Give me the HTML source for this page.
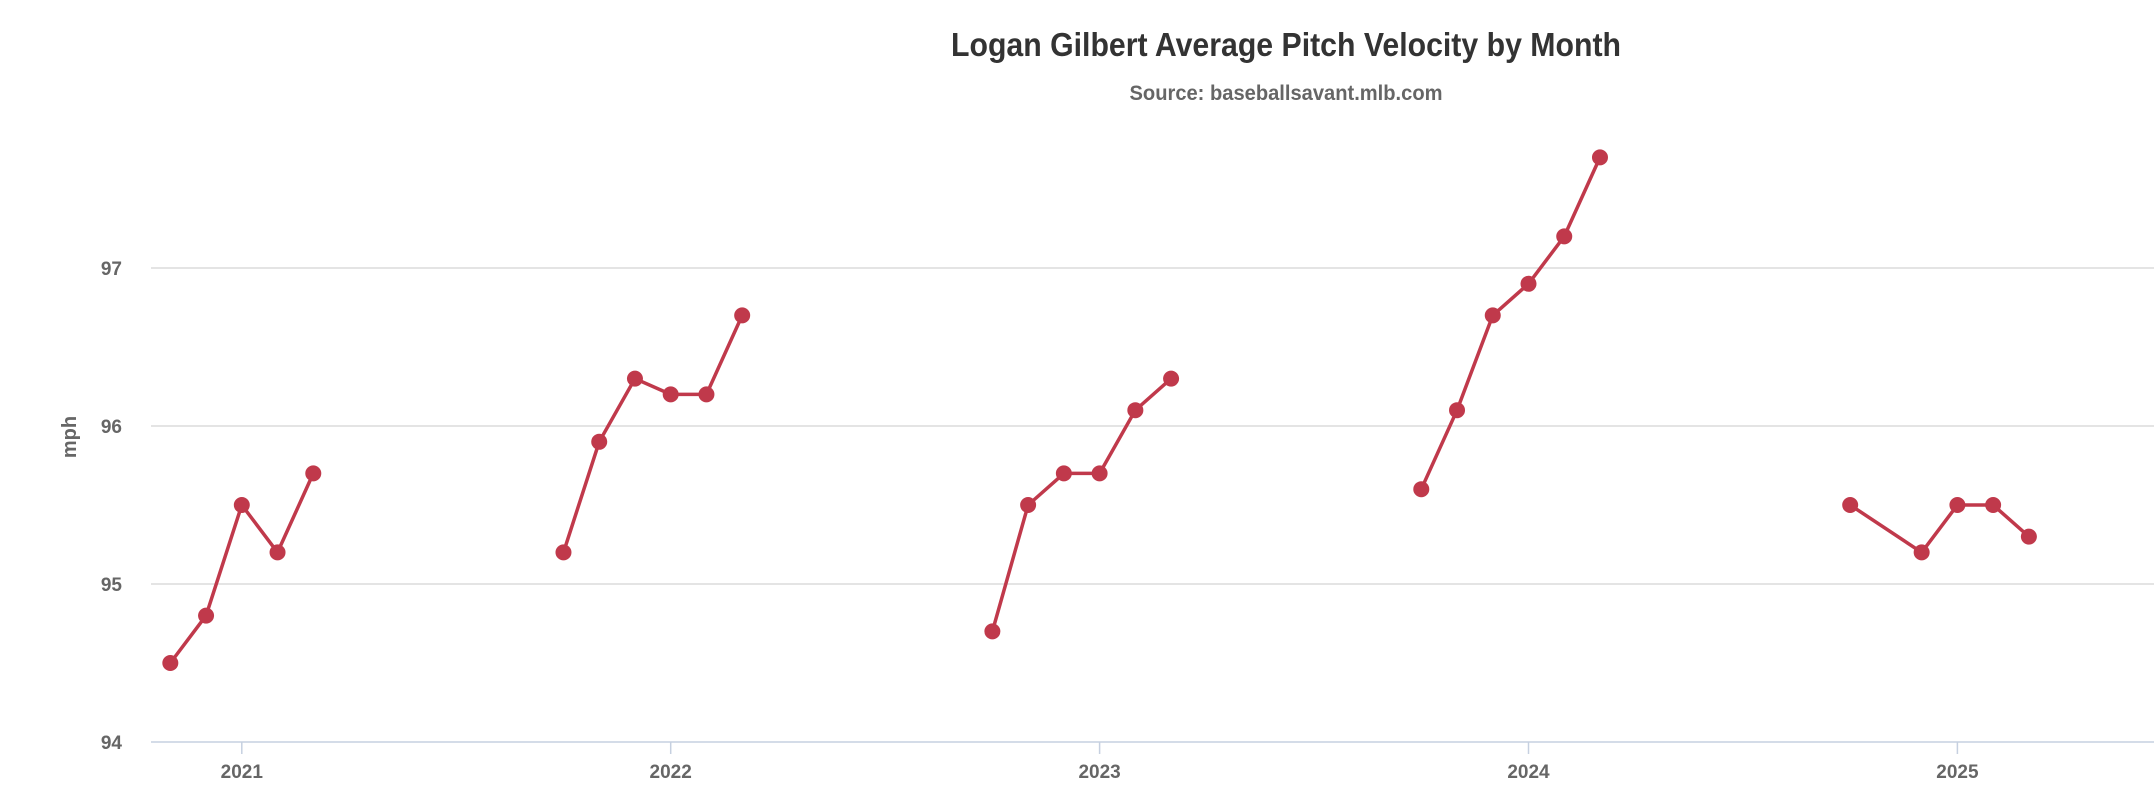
<!DOCTYPE html>
<html><head><meta charset="utf-8"><style>
body{margin:0;background:#fff;}
svg text{font-family:"Liberation Sans Narrow","Liberation Sans",sans-serif;font-weight:bold;}
</style></head><body>
<svg id="chart" width="2154" height="806" xmlns="http://www.w3.org/2000/svg">
<text x="1286" y="56" text-anchor="middle" font-size="33" fill="#333" textLength="670" lengthAdjust="spacingAndGlyphs">Logan Gilbert Average Pitch Velocity by Month</text>
<text x="1286" y="100" text-anchor="middle" font-size="21" fill="#666" textLength="313" lengthAdjust="spacingAndGlyphs">Source: baseballsavant.mlb.com</text>
<text transform="translate(76,437) rotate(-90)" text-anchor="middle" font-size="20" fill="#666">mph</text>
<g id="grid"></g><g id="xaxis"></g><g id="series"></g>
</svg>
<script>
const yTicks=[94,95,96,97];
const xYears=[2021,2022,2023,2024,2025];
const seasonYears=[2021,2022,2023,2024,2025];
const seasonMonths=[[-2,-1,0,1,2],[-3,-2,-1,0,1,2],[-3,-2,-1,0,1,2],[-3,-2,-1,0,1,2],[-3,-1,0,1,2]];
const seasonValues=[[94.5,94.8,95.5,95.2,95.7],[95.2,95.9,96.3,96.2,96.2,96.7],[94.7,95.5,95.7,95.7,96.1,96.3],[95.6,96.1,96.7,96.9,97.2,97.7],[95.5,95.2,95.5,95.5,95.3]];
const NS="http://www.w3.org/2000/svg";
function y(v){return 742-(v-94)*158;}
function x(yr,m){return 241.8+(yr-2021)*428.9+m*35.74;}
function mk(t,a,p){const e=document.createElementNS(NS,t);for(const k in a)e.setAttribute(k,a[k]);p.appendChild(e);return e;}
const grid=document.getElementById('grid'),xa=document.getElementById('xaxis'),sr=document.getElementById('series');
yTicks.forEach(v=>{
 if(v>94){const l=mk('line',{x1:151,x2:2154,y1:y(v),y2:y(v),stroke:'#dcdcdc','stroke-width':1.4},grid);
 
 }
 const t=mk('text',{x:122,y:y(v)+7,'text-anchor':'end','font-size':19,fill:'#666'},grid);t.textContent=v;
 
 
});
const ax=mk('line',{x1:151,x2:2154,y1:742,y2:742,stroke:'#c6d0e0','stroke-width':1.5},xa);


xYears.forEach(yr=>{
 mk('line',{x1:x(yr,0),x2:x(yr,0),y1:742,y2:754,stroke:'#c6d0e0','stroke-width':1.5},xa);
 const t=mk('text',{x:x(yr,0),y:778,'text-anchor':'middle','font-size':19,fill:'#666'},xa);t.textContent=yr;
 
 
});
seasonYears.forEach((yr,i)=>{
 const pts=seasonMonths[i].map((m,j)=>[x(yr,m),y(seasonValues[i][j])]);
 const pl=mk('polyline',{points:pts.map(p=>p.join(',')).join(' '),fill:'none',stroke:'#c0394b','stroke-width':3.5,'stroke-linejoin':'round'},sr);
 
 
 pts.forEach((p,j)=>{const c=mk('circle',{cx:p[0],cy:p[1],r:8,fill:'#c0394b'},sr);
 
 });
});
</script>
</body></html>
